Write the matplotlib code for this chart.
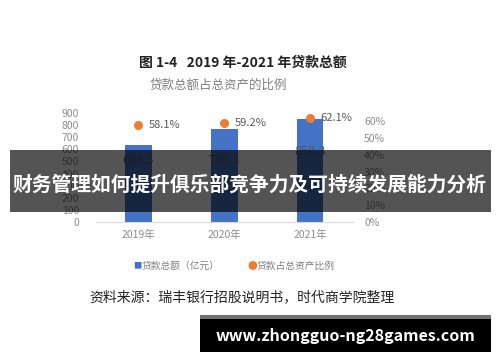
import numpy as np
import matplotlib.pyplot as plt
from matplotlib.patches import Rectangle

plt.rcParams['font.family'] = ['Noto Sans CJK SC', 'DejaVu Sans']

years = ['2019年', '2020年', '2021年']
loans = [638.5, 766.3, 850.3]          # 贷款总额（亿元）
ratio = [0.581, 0.592, 0.621]          # 贷款占总资产比例
ratio_labels = ['58.1%', '59.2%', '62.1%']

W, H = 500, 362
fig = plt.figure(figsize=(5, 3.62), dpi=100)

def px(x, y):
    return x / W, 1 - y / H

# main axes (bars)
ax = fig.add_axes([95.5 / W, (H - 222) / H, (353 - 95.5) / W, (222 - 113) / H])
x = np.arange(len(years))
ax.bar(x, loans, width=0.31, color='#4472C4', zorder=2)
label_drop = [130, 258, 270]
for xi, v, d in zip(x, loans, label_drop):
    ax.text(xi, v - d, f'{v:.1f}', ha='center', va='center', fontsize=9, color='#595959')
ax.set_xlim(-0.5, 2.5)
ax.set_ylim(0, 900)
ax.set_yticks(range(0, 901, 100))
ax.set_xticks(x)
ax.set_xticklabels(years)
for s in ['top', 'right', 'left']:
    ax.spines[s].set_visible(False)
ax.spines['bottom'].set_color('#d9d9d9')
ax.tick_params(axis='both', length=0, labelsize=7.5, colors='#8c8c8c')
ax.tick_params(axis='y', pad=12)
ax.tick_params(axis='x', pad=6)

# secondary axis (ratio points)
ax2 = ax.twinx()
ax2.scatter(x, ratio, s=30, color='#ED7D31', zorder=3)
for xi, r, lab in zip(x, ratio, ratio_labels):
    ax2.text(xi + 0.12, r, lab, ha='left', va='center', fontsize=8, color='#595959')
ax2.set_ylim(0, 0.65)
ax2.set_yticks(np.arange(0, 0.61, 0.1))
ax2.set_yticklabels([f'{int(round(t * 100))}%' for t in np.arange(0, 0.61, 0.1)])
for s in ['top', 'right', 'left', 'bottom']:
    ax2.spines[s].set_visible(False)
ax2.tick_params(axis='y', length=0, labelsize=7.5, colors='#8c8c8c', pad=8)

# titles
fig.text(*px(243, 63), '图 1-4   2019 年-2021 年贷款总额', ha='center', va='center',
         fontsize=10, fontweight='bold', color='#222222')
fig.text(*px(218, 85), '贷款总额占总资产的比例', ha='center', va='center',
         fontsize=9, color='#7f7f7f')

# legend
fig.text(*px(137, 266), '■', ha='center', va='center', fontsize=6, color='#4472C4')
fig.text(*px(142, 266), '贷款总额（亿元）', ha='left', va='center', fontsize=7, color='#7f7f7f')
fig.text(*px(252, 266), '●', ha='center', va='center', fontsize=7, color='#ED7D31')
fig.text(*px(257, 266), '贷款占总资产比例', ha='left', va='center', fontsize=7, color='#7f7f7f')

# source
fig.text(*px(242, 297), '资料来源：瑞丰银行招股说明书，时代商学院整理', ha='center', va='center',
         fontsize=10, color='#222222')

# banner overlay
fig.patches.append(Rectangle(px(10, 212), 481 / W, 62 / H, transform=fig.transFigure,
                             facecolor='black', alpha=0.67, zorder=10))
fig.text(*px(250, 185), '财务管理如何提升俱乐部竞争力及可持续发展能力分析', ha='center', va='center',
         fontsize=14.2, fontweight='bold', color='white', zorder=11)

# watermark
fig.patches.append(Rectangle(px(200, 319), 291 / W, 4 / H, transform=fig.transFigure,
                             facecolor='#707070', zorder=10))
fig.patches.append(Rectangle(px(200, 352), 291 / W, 33 / H, transform=fig.transFigure,
                             facecolor='black', zorder=10))
fig.text(*px(345, 336), 'www.zhongguo-ng28games.com', ha='center', va='center',
         fontsize=11.5, fontweight='bold', color='white', zorder=11)

fig.savefig('out.png', dpi=100)
